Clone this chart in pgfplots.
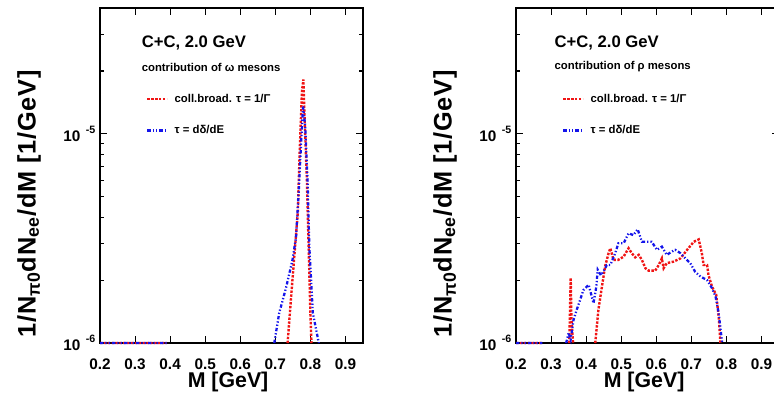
\documentclass[border=0pt]{standalone}
\usepackage{fontspec}
\setmainfont{Liberation Sans}
\usepackage{pgfplots}
\pgfplotsset{compat=1.18}
\definecolor{myred}{RGB}{240,20,20}
\definecolor{myblue}{RGB}{20,20,235}
\pgfplotsset{
 panel/.style={
  scale only axis, width=197.25pt, height=251.25pt,
  xmin=0.2, xmax=0.95, ymin=1e-6, ymax=4e-5,
  xtick={0.2,0.3,0.4,0.5,0.6,0.7,0.8,0.9},
  xticklabels={0.2,0.3,0.4,0.5,0.6,0.7,0.8,0.9},
  ytick={1e-6,1e-5},
  yticklabels={{10\hspace{4pt}\raisebox{6pt}{\fontsize{8}{8}\selectfont -6}},{10\hspace{4pt}\raisebox{6pt}{\fontsize{8}{8}\selectfont -5}}},
  minor ytick={2e-6,3e-6,4e-6,5e-6,6e-6,7e-6,8e-6,9e-6,2e-5,3e-5,4e-5},
  tick align=inside, tick pos=both,
  major tick length=5pt, minor tick length=3pt,
  axis line style={line width=1.2pt},
  every tick/.style={black, line width=0.8pt},
  ticklabel style={font=\bfseries\fontsize{11.5}{12}\selectfont},
  xticklabel style={yshift=-8pt},
  /pgf/number format/assume math mode=true,
  xlabel={M [GeV]},
  ylabel={1/N\textsubscript{π0}dN\textsubscript{ee}/dM [1/GeV]},
  xlabel style={font=\bfseries\fontsize{16}{17}\selectfont, at={(axis description cs:0.487,-0.116)},anchor=center},
  ylabel style={font=\bfseries\fontsize{19}{20}\selectfont\addfontfeatures{LetterSpace=3}, at={(axis description cs:-0.27,0.415)},anchor=center},
  clip=false, unbounded coords=jump,
  legend cell align=left,
  legend style={at={(axis description cs:0.175,0.744)}, anchor=north west, draw=none, fill=none, inner sep=0pt, row sep=16pt, column sep=5pt, font=\bfseries\fontsize{8.5}{9}\selectfont, nodes={inner sep=0pt, text height=6pt, text depth=1.5pt}},
 },
 redl/.style={color=myred, line width=1.8pt, dash pattern=on 1.8pt off 1.1pt},
 bluel/.style={color=myblue, line width=1.7pt, dash pattern=on 2.5pt off 1.5pt on 1pt off 1.5pt on 1pt off 1.5pt},
}
\pgfplotsset{legend image code/.code={\draw[#1] (0pt,0pt) -- (14.5pt,0pt);}}
\begin{document}
\begin{tikzpicture}
\begin{axis}[ymode=log, panel, at={(75pt,-257.25pt)}, anchor=south west]
\addplot[redl] coordinates {(0.2,1e-6)(0.25,1e-6)(0.3,1e-6)(0.35,1e-6)(0.39,1e-6)(0.4,nan)
(0.735,1e-6)(0.745,1.66e-6)(0.754,2.58e-6)(0.764,4.19e-6)(0.770,8.7e-6)(0.776,1.6e-5)(0.780,1.82e-5)(0.783,1.26e-5)(0.790,6.0e-6)(0.795,2.88e-6)(0.800,1.39e-6)(0.803,1e-6)};
\addlegendentry{coll.broad. τ = 1/Γ}
\addplot[bluel] coordinates {(0.2,1e-6)(0.25,1e-6)(0.3,1e-6)(0.35,1e-6)(0.39,1e-6)(0.4,nan)
(0.697,1e-6)(0.711,1.39e-6)(0.731,1.85e-6)(0.749,2.5e-6)(0.759,3.2e-6)(0.766,5.0e-6)(0.773,8.7e-6)(0.779,1.36e-5)(0.785,1.1e-5)(0.792,6.0e-6)(0.797,2.88e-6)(0.807,1.39e-6)(0.824,1e-6)};
\addlegendentry{τ = dδ/dE}
\node[anchor=west, font=\bfseries\fontsize{12.5}{13}\selectfont] at (axis description cs:0.141,0.896) {C+C, 2.0 GeV};
\node[anchor=west, font=\bfseries\fontsize{8.5}{9}\selectfont] at (axis description cs:0.141,0.824) {contribution of ω mesons};
\end{axis}
\begin{axis}[ymode=log, panel, at={(387pt,-257.25pt)}, anchor=south west]
\addplot[redl] coordinates {(0.2,1e-6)(0.24,1e-6)(0.275,1e-6)(0.28,nan)
(0.352,1e-6)(0.356,2.05e-6)(0.358,1.3e-6)(0.361,1.1e-6)(0.363,1e-6)(0.37,nan)
(0.426,1e-6)(0.435,1.44e-6)(0.445,1.86e-6)(0.454,2.32e-6)(0.464,2.69e-6)(0.469,2.84e-6)(0.478,2.5e-6)(0.492,2.5e-6)(0.507,2.59e-6)(0.521,2.84e-6)(0.530,2.69e-6)(0.540,2.57e-6)(0.550,2.64e-6)(0.559,2.5e-6)(0.569,2.28e-6)(0.578,2.22e-6)(0.597,2.22e-6)(0.607,2.36e-6)(0.616,2.54e-6)(0.621,2.28e-6)(0.630,2.41e-6)(0.649,2.45e-6)(0.669,2.54e-6)(0.688,2.79e-6)(0.707,3.05e-6)(0.721,3.13e-6)(0.730,2.69e-6)(0.735,2.36e-6)(0.745,2.36e-6)(0.749,2.11e-6)(0.759,1.86e-6)(0.771,1.7e-6)(0.778,1.34e-6)(0.783,1e-6)};
\addlegendentry{coll.broad. τ = 1/Γ}
\addplot[bluel] coordinates {(0.2,1e-6)(0.24,1e-6)(0.275,1e-6)(0.28,nan)
(0.343,1e-6)(0.350,1.12e-6)(0.356,1.04e-6)(0.364,1.29e-6)(0.373,1.44e-6)(0.383,1.61e-6)(0.392,1.79e-6)(0.407,1.9e-6)(0.416,1.67e-6)(0.421,1.55e-6)(0.429,1.86e-6)(0.433,2.24e-6)(0.442,2.11e-6)(0.449,2.19e-6)(0.459,2.36e-6)(0.469,2.36e-6)(0.483,2.69e-6)(0.492,3.0e-6)(0.507,3.0e-6)(0.521,3.35e-6)(0.535,3.28e-6)(0.547,3.5e-6)(0.559,3.05e-6)(0.573,3.05e-6)(0.587,3.05e-6)(0.602,2.79e-6)(0.616,2.89e-6)(0.630,2.64e-6)(0.645,2.74e-6)(0.654,2.79e-6)(0.669,2.69e-6)(0.683,2.54e-6)(0.697,2.41e-6)(0.711,2.19e-6)(0.726,2.08e-6)(0.745,2.0e-6)(0.759,1.83e-6)(0.769,1.67e-6)(0.778,1.39e-6)(0.788,1e-6)};
\addlegendentry{τ = dδ/dE}
\node[anchor=west, font=\bfseries\fontsize{12.5}{13}\selectfont] at (axis description cs:0.129,0.896) {C+C, 2.0 GeV};
\node[anchor=west, font=\bfseries\fontsize{8.5}{9}\selectfont] at (axis description cs:0.129,0.824) {contribution of ρ mesons};
\end{axis}
\pgfresetboundingbox
\path (0pt,0pt) rectangle (580.5pt,-295.5pt);
\end{tikzpicture}
\end{document}
